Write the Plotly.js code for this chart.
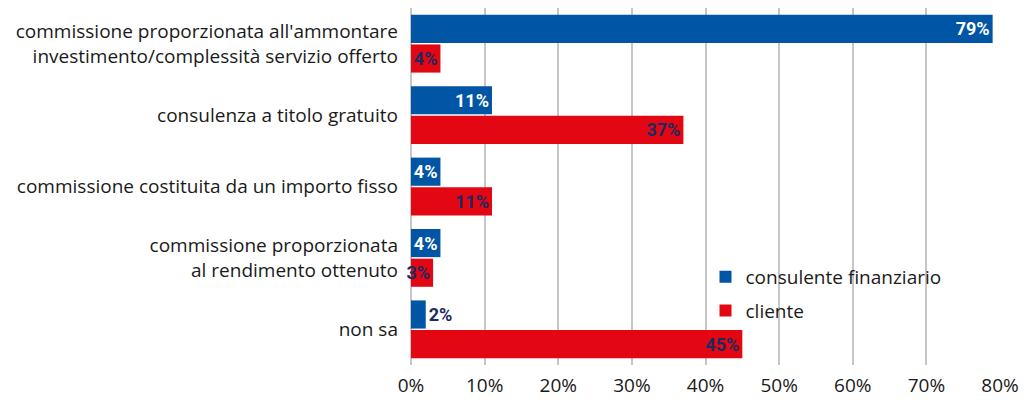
<!DOCTYPE html>
<html>
<head>
<meta charset="utf-8">
<script src="https://cdn.plot.ly/plotly-3.0.1.min.js"></script>
<style>
  html, body { margin: 0; padding: 0; background: #fff; }
  #chart { width: 1024px; height: 403px; }
</style>
</head>
<body>
<div id="chart"></div>
<script>
var categories = [
    "commissione proporzionata all'ammontare<br>investimento/complessità servizio offerto",
    "consulenza a titolo gratuito",
    "commissione costituita da un importo fisso",
    "commissione proporzionata<br>al rendimento ottenuto",
    "non sa"
];
var consulente = [79, 11, 4, 4, 2];
var cliente = [4, 37, 11, 3, 45];

var blue = "#0055a5";
var red = "#e30613";
var navy = "#1c2a5e";

function labels(vals){
    return vals.map(function(v){ return v + "%"; });
}

var labelFont = {size: 18, family: "Roboto", weight: "bold"};

var trace1 = {
    type: "bar",
    orientation: "h",
    name: "consulente finanziario",
    legendgroup: "a",
    y: categories,
    x: consulente,
    text: labels(consulente),
    textposition: ["inside", "inside", "inside", "inside", "outside"],
    insidetextanchor: "end",
    constraintext: "none",
    textangle: 0,
    insidetextfont: Object.assign({color: "#ffffff"}, labelFont),
    outsidetextfont: Object.assign({color: navy}, labelFont),
    cliponaxis: false,
    marker: {color: blue},
    hoverinfo: "none"
};

var trace2 = {
    type: "bar",
    orientation: "h",
    name: "cliente",
    legendgroup: "b",
    y: categories,
    x: cliente,
    text: labels(cliente),
    textposition: "inside",
    insidetextanchor: "end",
    constraintext: "none",
    textangle: 0,
    insidetextfont: Object.assign({color: navy}, labelFont),
    outsidetextfont: Object.assign({color: navy}, labelFont),
    cliponaxis: false,
    marker: {color: red},
    hoverinfo: "none"
};

var layout = {
    width: 1024,
    height: 403,
    margin: {l: 411, r: 24, t: 8, b: 38},
    barmode: "group",
    bargap: 0.17,
    bargroupgap: 0.05,
    paper_bgcolor: "#fff",
    plot_bgcolor: "#fff",
    font: {family: "Open Sans", size: 19, color: "#1a1a1a"},
    showlegend: true,
    legend: {
        x: 0.50, y: 0.30, xanchor: "left", yanchor: "top",
        traceorder: "grouped",
        tracegroupgap: 6,
        itemwidth: 30,
        font: {size: 19, color: "#1a1a1a"},
        bgcolor: "rgba(0,0,0,0)"
    },
    xaxis: {
        range: [0, 80],
        dtick: 10,
        ticksuffix: "%",
        showgrid: true,
        gridcolor: "#c6c6c6",
        gridwidth: 2,
        zeroline: true,
        zerolinecolor: "#c6c6c6",
        zerolinewidth: 2,
        showline: false,
        ticklabelstandoff: 7,
        tickfont: {size: 19},
        fixedrange: true
    },
    yaxis: {
        autorange: "reversed",
        showgrid: false,
        zeroline: false,
        showline: false,
        ticks: "",
        ticklabelstandoff: 12,
        tickfont: {size: 19},
        fixedrange: true
    }
};

Plotly.newPlot("chart", [trace1, trace2], layout, {displayModeBar: false, staticPlot: true});
</script>
</body>
</html>
